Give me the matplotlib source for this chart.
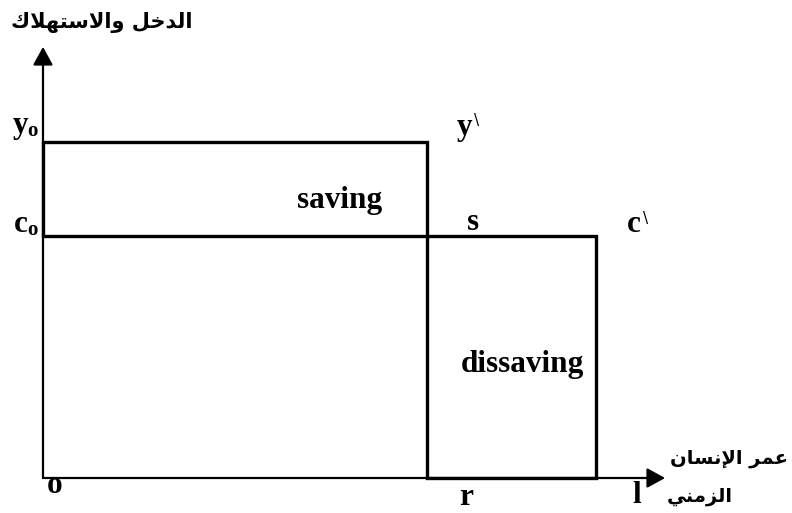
import matplotlib
matplotlib.use("Agg")
import matplotlib.pyplot as plt
from matplotlib.patches import Rectangle

# ---- data (life-cycle income / consumption diagram) ----
y0 = 100          # income level during working life
c0 = 72           # constant consumption level
r_age = 100       # retirement age
l_age = 144       # end of life
x_axis_end = 162
y_axis_end = 128.3

# Arabic labels (pre-shaped presentation forms, visual order)
title_y = "\uFED9\uFEFC\uFEEC\uFE98\uFEB3\uFEFB\uFE8D\uFEED \uFEDE\uFEA7\uFEAA\uFEDF\uFE8D"   # الدخل والاستهلاك
title_x1 = "\uFEE5\uFE8E\uFEB4\uFEE7\uFEF9\uFE8D \uFEAE\uFEE4\uFECB"                           # عمر الإنسان
title_x2 = "\uFEF2\uFEE8\uFEE3\uFEB0\uFEDF\uFE8D"                                             # الزمني

# ---- layout: pixel scale ----
W, H = 792, 513
ox, oy = 43, 478          # origin pixel
sx, sy = 3.84, 3.36       # px per data unit

fig = plt.figure(figsize=(W / 100, H / 100), dpi=100)
ax = fig.add_axes([0, 0, 1, 1])
ax.set_xlim(-ox / sx, (W - ox) / sx)
ax.set_ylim(-(H - oy) / sy, oy / sy)
ax.axis("off")

def P(px, py):
    """pixel -> data"""
    return ((px - ox) / sx, (oy - py) / sy)

# axes with arrows
arrow_kw = dict(arrowstyle="-|>,head_length=1.0,head_width=0.55", lw=1.6,
                color="black", mutation_scale=11, shrinkA=0, shrinkB=0)
ax.annotate("", xy=(x_axis_end, 0), xytext=(0, 0), arrowprops=arrow_kw)
ax.annotate("", xy=(0, y_axis_end), xytext=(0, 0), arrowprops=arrow_kw)

# saving rectangle and dissaving rectangle
ax.add_patch(Rectangle((0, c0), r_age, y0 - c0, fill=False, lw=2.4,
                       edgecolor="black", joinstyle="miter"))
ax.add_patch(Rectangle((r_age, 0), l_age - r_age, c0, fill=False, lw=2.4,
                       edgecolor="black", joinstyle="miter"))

serif = dict(family="Liberation Serif", fontweight="bold", color="black")
FS = 22.5

def T(px, py, s, ha="center", va="center", fs=FS, **kw):
    d = dict(serif)
    d.update(kw)
    x, y = P(px, py)
    ax.text(x, y, s, ha=ha, va=va, fontsize=fs, **d)

# vertical axis labels
T(28, 133, "y", ha="right", va="baseline")
T(27, 136, "o", ha="left", va="baseline", fs=15)
T(28, 232, "c", ha="right", va="baseline")
T(27, 235, "o", ha="left", va="baseline", fs=15)

# corner labels
T(472, 135, "y", ha="right", va="baseline")
T(477, 121, "\\", fs=11, family="DejaVu Sans", fontweight="normal")
T(473, 230, "s", va="baseline")
T(641, 232, "c", ha="right", va="baseline")
T(646, 218, "\\", fs=11, family="DejaVu Sans", fontweight="normal")

# region labels
T(340, 208, "saving", va="baseline")
T(522, 372, "dissaving", va="baseline")

# horizontal axis labels
T(55, 493, "o", va="baseline")
T(466, 505, "r", va="baseline")
T(637, 503, "l", va="baseline")

# Arabic axis titles
ar = dict(family=["DejaVu Sans"], fontweight="bold", color="black")
x, y = P(102, 23)
ax.text(x, y, title_y, ha="center", va="center", fontsize=15, **ar)
x, y = P(729, 458)
ax.text(x, y, title_x1, ha="center", va="center", fontsize=14, **ar)
x, y = P(700, 496)
ax.text(x, y, title_x2, ha="center", va="center", fontsize=14, **ar)

fig.savefig("out.png", dpi=100)
